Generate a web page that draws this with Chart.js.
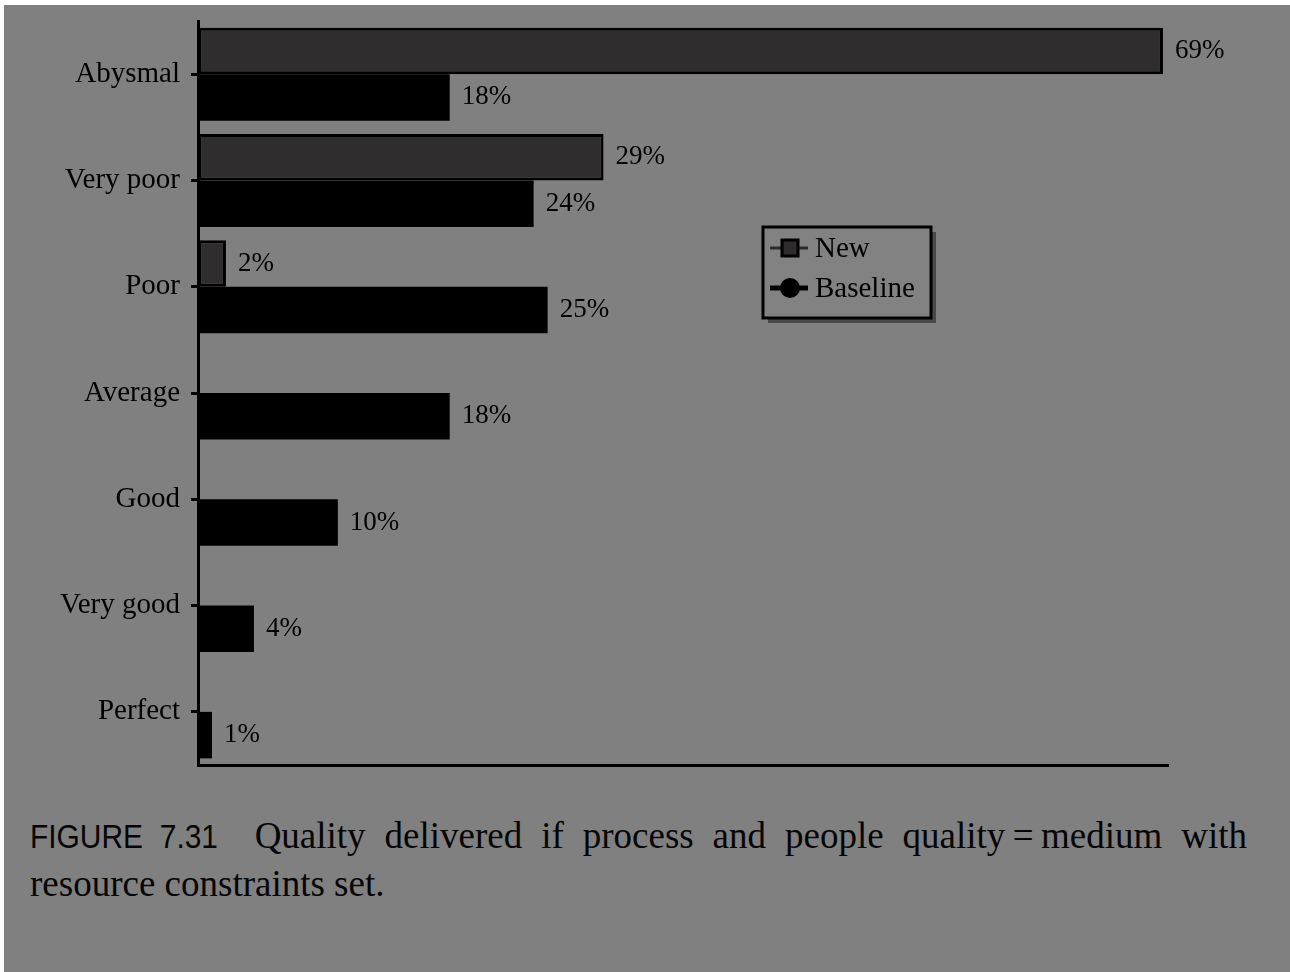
<!DOCTYPE html>
<html>
<head>
<meta charset="utf-8">
<script src="https://cdn.jsdelivr.net/npm/chart.js@4.4.1/dist/chart.umd.min.js"></script>
<style>
    html, body { margin: 0; padding: 0; background: #ffffff; width: 1290px; height: 972px; overflow: hidden; }
    #page { position: absolute; left: 4px; top: 5px; right: 0; bottom: 0; background: #808080; }
    #plot { position: absolute; left: 0; top: 0; width: 1290px; height: 800px; }
    #caption { position: absolute; left: 30px; top: 812px; width: 1217px; color: #050505;
        font-family: "Liberation Serif", serif; font-size: 37px; line-height: 48px; }
    #caption .line1 { display: flex; white-space: nowrap; }
    #caption .fig { display: inline-block; font-family: "Liberation Sans", sans-serif; font-size: 34px;
        transform: scaleX(0.88); transform-origin: left center; margin-right: 11px; }
    #caption .fig span { margin-left: 19px; }
    #caption .rest { flex: 1; text-align: justify; text-align-last: justify; }
</style>
</head>
<body>
<div id="page"></div>
<div id="plot"><canvas id="chart"></canvas></div>
<div id="caption">
    <div class="line1"><span class="fig">FIGURE<span>7.31</span></span><span class="rest">Quality delivered if process and people quality&thinsp;=&thinsp;medium with</span></div>
    <div>resource constraints set.</div>
</div>
<script>
var categories = ['Abysmal', 'Very poor', 'Poor', 'Average', 'Good', 'Very good', 'Perfect'];
var newValues = [69, 29, 2, 0, 0, 0, 0];
var baselineValues = [18, 24, 25, 18, 10, 4, 1];
var seriesNames = ['New', 'Baseline'];

var serif = '"Liberation Serif", "Times New Roman", serif';

// percentage written just past the end of each bar
var valueLabels = {
    id: 'valueLabels',
    afterDatasetsDraw: function(chart) {
        var ctx = chart.ctx;
        ctx.save();
        ctx.font = '27px ' + serif;
        ctx.fillStyle = '#000000';
        ctx.textAlign = 'left';
        ctx.textBaseline = 'middle';
        chart.data.datasets.forEach(function(ds, i) {
            var meta = chart.getDatasetMeta(i);
            meta.data.forEach(function(bar, j) {
                var v = ds.data[j];
                if (!v) {
                    return;
                }
                ctx.fillText(v + '%', bar.x + 12, bar.y);
            });
        });
        ctx.restore();
    }
};

// framed legend with line + marker samples and a drop shadow
var boxLegend = {
    id: 'boxLegend',
    afterDraw: function(chart, args, opts) {
        var ctx = chart.ctx;
        var x = opts.x, y = opts.y, w = opts.width, h = opts.height;
        ctx.save();
        ctx.fillStyle = '#4a4a4a';
        ctx.fillRect(x + 5, y + 5, w, h);
        ctx.fillStyle = '#828282';
        ctx.fillRect(x, y, w, h);
        ctx.lineWidth = 3;
        ctx.strokeStyle = '#000000';
        ctx.strokeRect(x, y, w, h);

        ctx.font = '29px ' + serif;
        ctx.textBaseline = 'middle';
        chart.data.datasets.forEach(function(ds, i) {
            var cy = y + 21 + i * 40;
            var cx = x + 27;
            ctx.strokeStyle = i === 0 ? '#2a2a2a' : '#000000';
            ctx.lineWidth = i === 0 ? 3 : 5;
            ctx.beginPath();
            ctx.moveTo(x + 7, cy);
            ctx.lineTo(x + 45, cy);
            ctx.stroke();
            ctx.fillStyle = ds.backgroundColor;
            ctx.strokeStyle = '#000000';
            ctx.lineWidth = 3;
            if (i === 0) {
                ctx.fillRect(cx - 8, cy - 8, 16, 16);
                ctx.strokeRect(cx - 8, cy - 8, 16, 16);
            } else {
                ctx.beginPath();
                ctx.arc(cx, cy, 10, 0, Math.PI * 2);
                ctx.fill();
            }
            ctx.fillStyle = '#000000';
            ctx.fillText(ds.label, x + 52, cy + 1);
        });
        ctx.restore();
    }
};

var chart = new Chart(document.getElementById('chart'), {
    type: 'bar',
    data: {
        labels: categories,
        datasets: [
            {
                label: seriesNames[0],
                data: newValues,
                backgroundColor: '#2f2d2e',
                borderColor: '#000000',
                borderWidth: 3,
                borderSkipped: false
            },
            {
                label: seriesNames[1],
                data: baselineValues,
                backgroundColor: '#000000',
                borderWidth: 0
            }
        ]
    },
    options: {
        indexAxis: 'y',
        responsive: true,
        maintainAspectRatio: false,
        animation: false,
        categoryPercentage: 0.875,
        barPercentage: 1.0,
        layout: { padding: { top: 21, right: 122, bottom: 35, left: 0 } },
        plugins: {
            legend: { display: false },
            tooltip: { enabled: false },
            boxLegend: { x: 763, y: 227, width: 168, height: 91 }
        },
        scales: {
            x: {
                min: 0,
                max: 69.36,
                ticks: { display: false },
                grid: { display: true, drawOnChartArea: false, drawTicks: false },
                border: { display: true, color: '#000000', width: 3 },
                afterFit: function(scale) { scale.height = 0; }
            },
            y: {
                ticks: {
                    color: '#000000',
                    font: { family: serif, size: 29 },
                    padding: 11
                },
                grid: {
                    offset: false,
                    drawOnChartArea: false,
                    tickLength: 7,
                    tickWidth: 3,
                    tickColor: '#000000'
                },
                border: { display: true, color: '#000000', width: 3 },
                afterFit: function(scale) {
                    scale.width = 198;
                    scale.paddingTop = 0;
                    scale.paddingBottom = 0;
                }
            }
        }
    },
    plugins: [valueLabels, boxLegend]
});
</script>
</body>
</html>
